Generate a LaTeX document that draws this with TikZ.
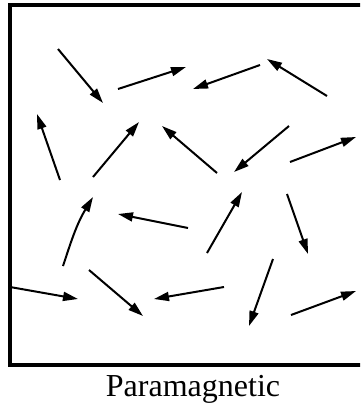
\documentclass[tikz,border=0pt]{standalone}
\usepackage{fontspec}
\setmainfont{Liberation Serif}
\usetikzlibrary{arrows.meta}
\begin{document}
\begin{tikzpicture}[x=1pt,y=-1pt,
  spin/.style={line width=2pt,-{Triangle[length=15pt,width=9pt]}},
  frame/.style={line width=3.2pt}]
\useasboundingbox (0,0) rectangle (360,410);
\begin{scope}
\clip (0,0) rectangle (360,410);
\draw[frame] (375,5) -- (10,5) -- (10,365) -- (375,365);
\end{scope}
\draw[spin] (58,49) -- (103,103);
\draw[spin] (118,89) -- (186,67);
\draw[spin] (260,65) -- (193,89);
\draw[spin] (327,96) -- (267,59);
\draw[spin] (60,180) -- (37,114);
\draw[spin] (93,177) -- (139,122);
\draw[spin] (217,173) -- (162,126);
\draw[spin] (289,126) -- (234,172);
\draw[spin] (290,162) -- (356,137);
\draw[spin] (63,266) .. controls (70,245) and (76,225) .. (93,197);
\draw[spin] (188,228) -- (118,214);
\draw[spin] (207,253) -- (242,192);
\draw[spin] (287,194) -- (308,254);
\draw[spin] (10,287) -- (78,299);
\draw[spin] (89,270) -- (143,316);
\draw[spin] (224,287) -- (154,299);
\draw[spin] (273,259) -- (249,326);
\draw[spin] (291,315) -- (356,291);
\node[font=\fontsize{32}{36}\selectfont, anchor=base] (label) at (193,396) {Paramagnetic};
\end{tikzpicture}
\end{document}
